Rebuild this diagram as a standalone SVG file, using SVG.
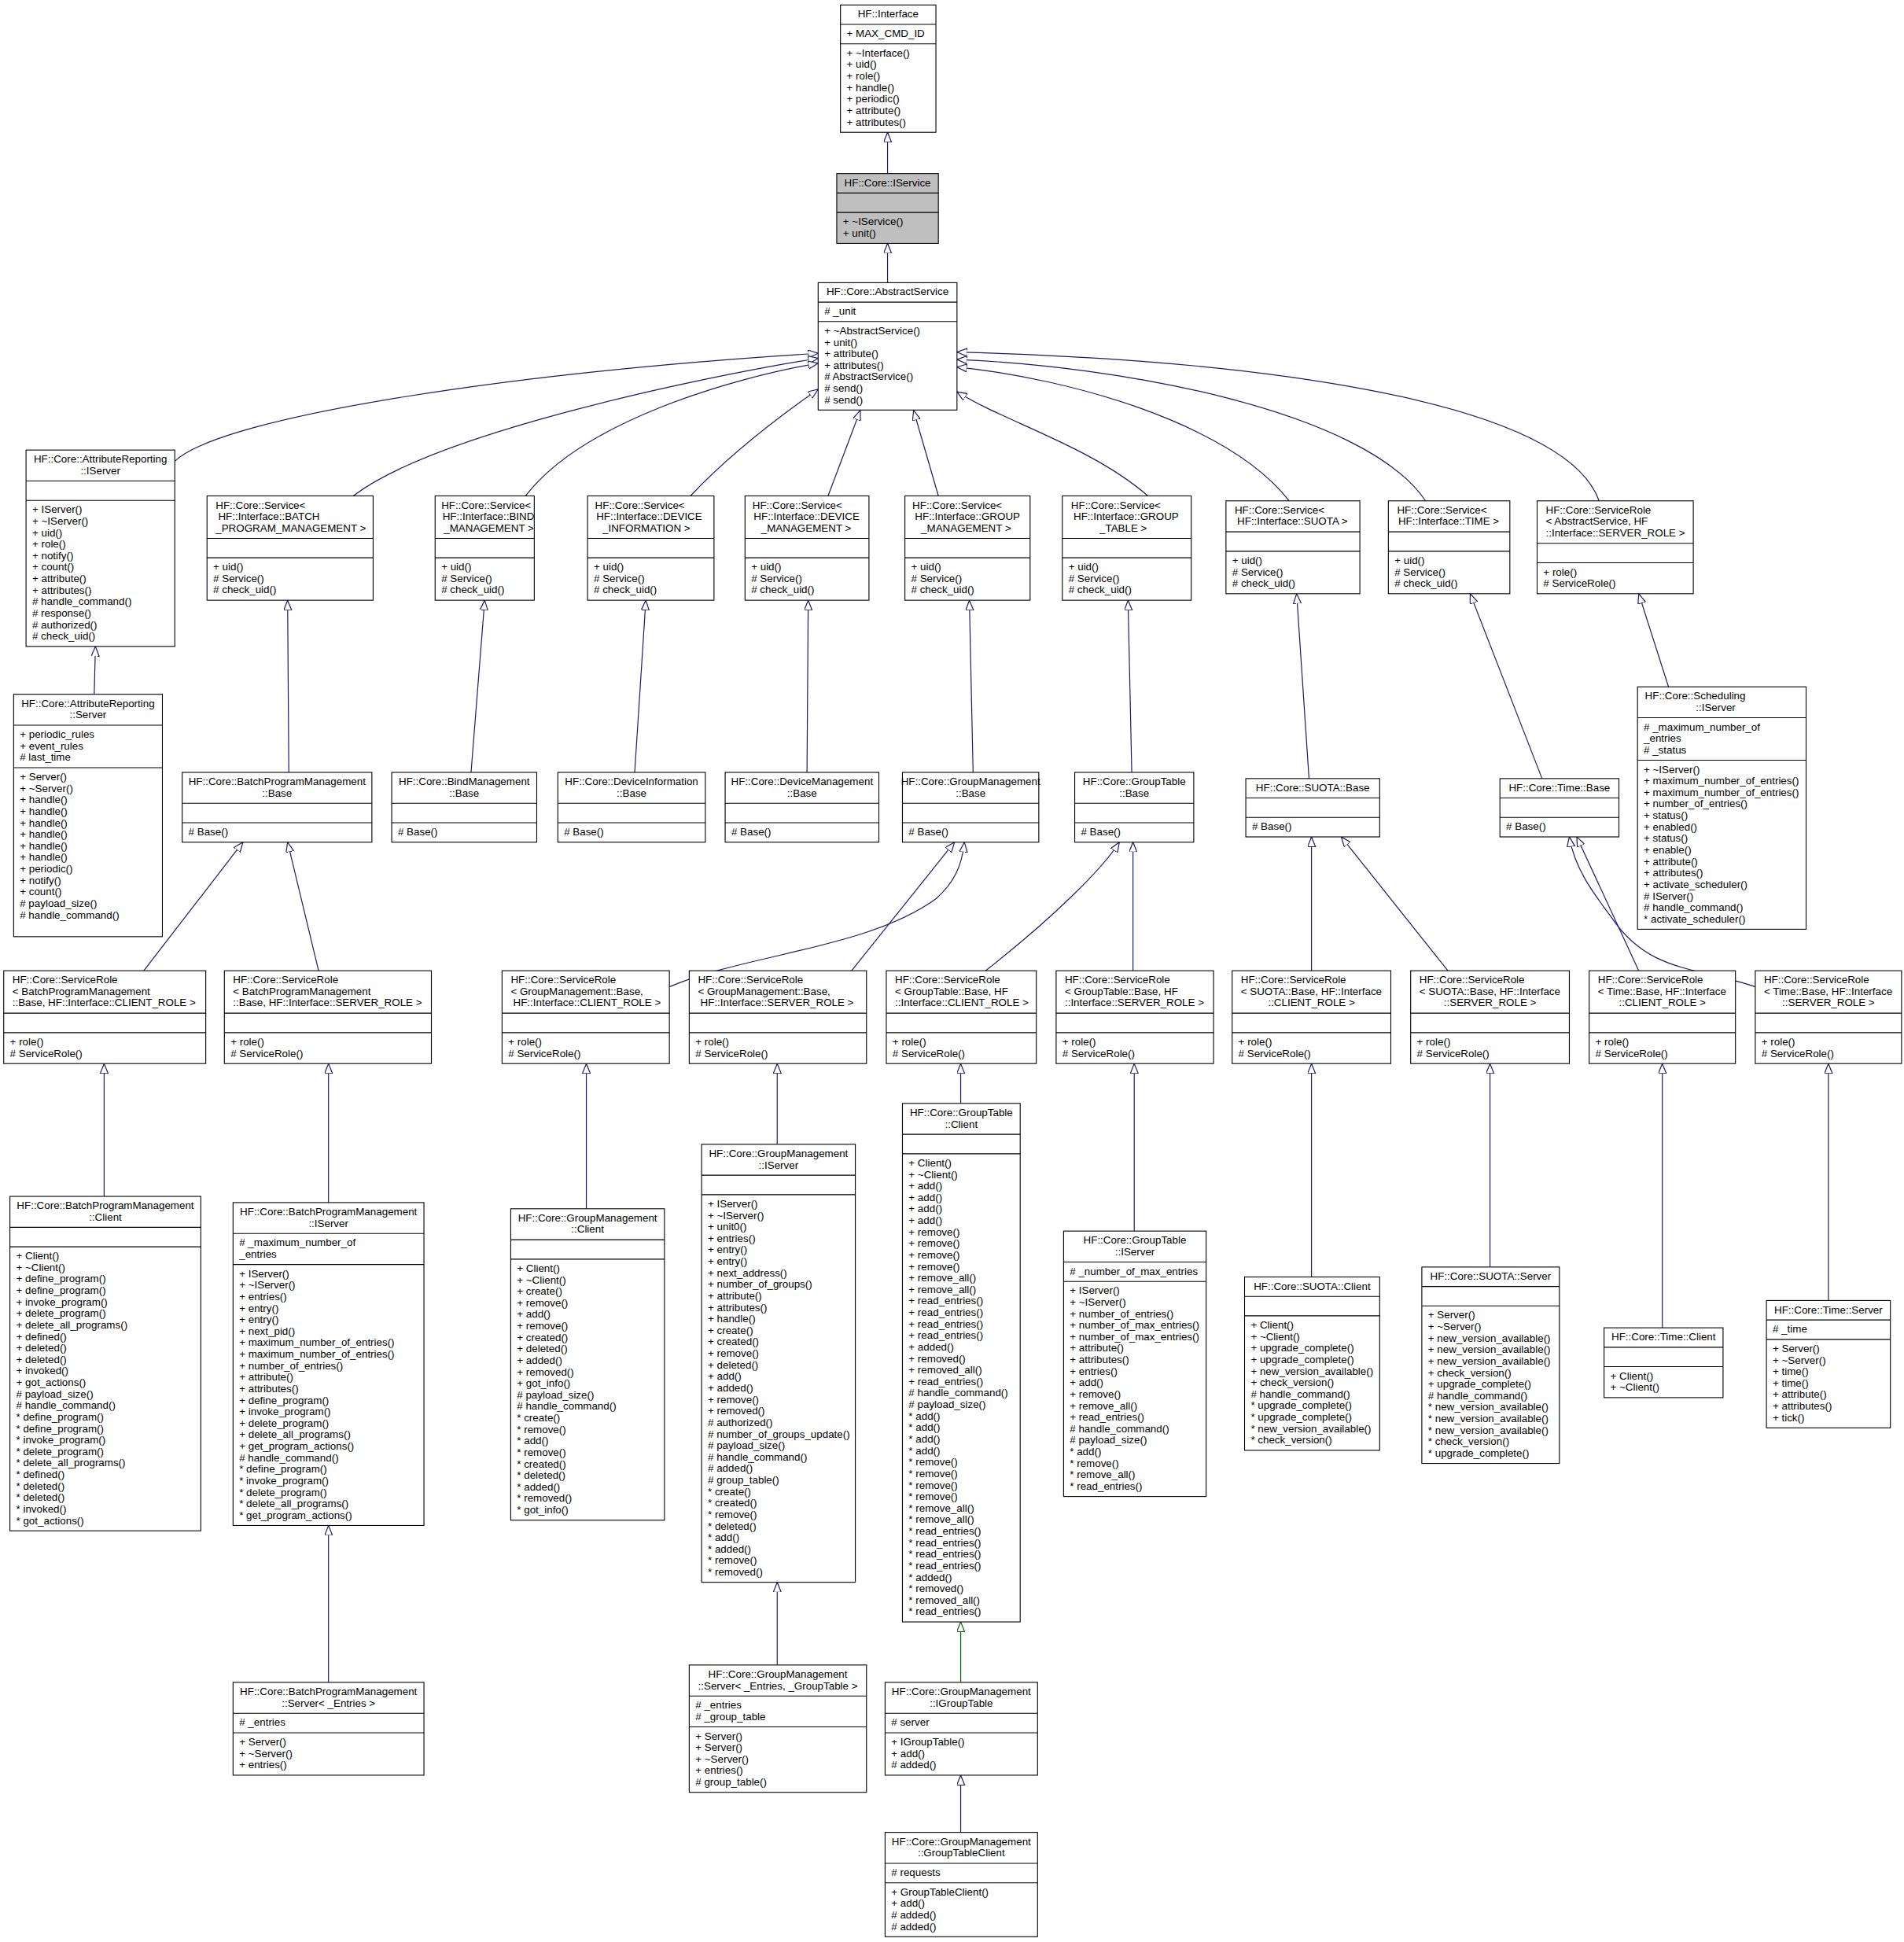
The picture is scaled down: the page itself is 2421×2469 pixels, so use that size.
<svg xmlns="http://www.w3.org/2000/svg" width="2421" height="2469" viewBox="0 0 2421 2469">
<style>
.b{fill:#fff;stroke:#000;stroke-width:0.7}
.g{fill:#bfbfbf;stroke:#000;stroke-width:0.7}
.s{stroke:#000;stroke-width:0.7;fill:none}
text{font-family:"Liberation Sans",Arial,sans-serif;font-size:8.5px;fill:#000}
.c{text-anchor:middle}
.e{fill:none;stroke:#191970;stroke-width:0.75;marker-end:url(#a)}
.eg{fill:none;stroke:#006400;stroke-width:0.75;marker-end:url(#ag)}
</style>
<defs>
<marker id="a" markerUnits="userSpaceOnUse" markerWidth="10" markerHeight="8" refX="8" refY="3.2" orient="auto"><path d="M0,0 L8,3.2 L0,6.4 Z" fill="#fff" stroke="#191970" stroke-width="0.75"/></marker>
<marker id="ag" markerUnits="userSpaceOnUse" markerWidth="10" markerHeight="8" refX="8" refY="3.2" orient="auto"><path d="M0,0 L8,3.2 L0,6.4 Z" fill="#fff" stroke="#006400" stroke-width="0.75"/></marker>
</defs>
<rect width="2421" height="2469" fill="#fff"/>
<g transform="scale(1.5762)">
<g id="edges">
<path class="e" d="M716,140 L716,106.7"/>
<path class="e" d="M716,228 L716,196.3"/>
<path class="e" d="M141,372 C180,335 420,300 660,285"/>
<path class="e" d="M285,400 C350,350 560,305 660,289"/>
<path class="e" d="M424,400 C470,340 590,305 660,293"/>
<path class="e" d="M557,400 C590,365 630,335 660,314"/>
<path class="e" d="M668,400 L694,331"/>
<path class="e" d="M757,400 L737,331"/>
<path class="e" d="M926,400 C880,360 810,340 772,316"/>
<path class="e" d="M1040,404 C990,340 860,305 772,296"/>
<path class="e" d="M1150,404 C1100,330 900,295 772,290"/>
<path class="e" d="M1290,404 C1260,320 1000,290 772,284"/>
<path class="e" d="M76,560 L77,521.4"/>
<path class="e" d="M233,623 L232,484.2"/>
<path class="e" d="M380,623 L391,484.2"/>
<path class="e" d="M512,623 L521,484.2"/>
<path class="e" d="M651,623 L652,484.2"/>
<path class="e" d="M785,623 L782,484.2"/>
<path class="e" d="M913,623 L910,484.2"/>
<path class="e" d="M1056,628 L1046,478.9"/>
<path class="e" d="M1244,628 L1186,478.9"/>
<path class="e" d="M1346,554 L1322,478.9"/>
<path class="e" d="M116,783 L196,679.3"/>
<path class="e" d="M257,783 L232,679.3"/>
<path class="e" d="M540,796 C600,770 700,765 755,725 C770,712 776,698 778,679.3"/>
<path class="e" d="M687,783 L770,679.3"/>
<path class="e" d="M795,783 C850,740 890,700 903,679.3"/>
<path class="e" d="M914,783 L914,679.3"/>
<path class="e" d="M1058,783 L1058,675"/>
<path class="e" d="M1168,783 L1082,675"/>
<path class="e" d="M1322,783 L1272,675"/>
<path class="e" d="M1416,796 C1370,780 1330,785 1300,740 C1285,720 1270,700 1266,675"/>
<path class="e" d="M84,965 L84,857.9"/>
<path class="e" d="M265,970 L265,857.9"/>
<path class="e" d="M473,975 L473,857.9"/>
<path class="e" d="M627,923 L627,857.9"/>
<path class="e" d="M775,890 L775,857.9"/>
<path class="e" d="M915,993 L915,857.9"/>
<path class="e" d="M1058,1030 L1058,857.9"/>
<path class="e" d="M1202,1022 L1202,857.9"/>
<path class="e" d="M1341,1071 L1341,857.9"/>
<path class="e" d="M1475,1049 L1475,857.9"/>
<path class="e" d="M265,1357 L265,1230.5"/>
<path class="e" d="M627,1343 L627,1276.3"/>
<path class="eg" d="M775,1357 L775,1308.2"/>
<path class="e" d="M775,1478 L775,1431.9"/>
</g>

<g id="n_interface">
<rect class="b" x="678" y="4" width="77" height="102.72"/>
<path class="s" d="M678,19.68 H755 M678,35.36 H755"/>
<text class="c" x="716.5" y="14.2">HF::Interface</text>
<text x="683" y="29.9">+ MAX_CMD_ID</text>
<text x="683" y="45.56"><tspan x="683">+ ~Interface()</tspan><tspan x="683" dy="9.28">+ uid()</tspan><tspan x="683" dy="9.28">+ role()</tspan><tspan x="683" dy="9.28">+ handle()</tspan><tspan x="683" dy="9.28">+ periodic()</tspan><tspan x="683" dy="9.28">+ attribute()</tspan><tspan x="683" dy="9.28">+ attributes()</tspan></text>
</g>

<g id="n_iservice">
<rect class="g" x="675" y="140" width="82" height="56.32"/>
<path class="s" d="M675,155.68 H757 M675,171.36 H757"/>
<text class="c" x="716" y="150.2">HF::Core::IService</text>
<text x="680" y="181.56"><tspan x="680">+ ~IService()</tspan><tspan x="680" dy="9.28">+ unit()</tspan></text>
</g>

<g id="n_abstractservice">
<rect class="b" x="660" y="228" width="112" height="102.72"/>
<path class="s" d="M660,243.68 H772 M660,259.36 H772"/>
<text class="c" x="716" y="238.2">HF::Core::AbstractService</text>
<text x="665" y="253.9"># _unit</text>
<text x="665" y="269.56"><tspan x="665">+ ~AbstractService()</tspan><tspan x="665" dy="9.28">+ unit()</tspan><tspan x="665" dy="9.28">+ attribute()</tspan><tspan x="665" dy="9.28">+ attributes()</tspan><tspan x="665" dy="9.28"># AbstractService()</tspan><tspan x="665" dy="9.28"># send()</tspan><tspan x="665" dy="9.28"># send()</tspan></text>
</g>

<g id="n_ar_iserver">
<rect class="b" x="21" y="363" width="120" height="158.4"/>
<path class="s" d="M21,387.96 H141 M21,403.64 H141"/>
<text class="c" x="81" y="373.2"><tspan x="81">HF::Core::AttributeReporting</tspan><tspan x="81" dy="9.28">::IServer</tspan></text>
<text x="26" y="413.84"><tspan x="26">+ IServer()</tspan><tspan x="26" dy="9.28">+ ~IServer()</tspan><tspan x="26" dy="9.28">+ uid()</tspan><tspan x="26" dy="9.28">+ role()</tspan><tspan x="26" dy="9.28">+ notify()</tspan><tspan x="26" dy="9.28">+ count()</tspan><tspan x="26" dy="9.28">+ attribute()</tspan><tspan x="26" dy="9.28">+ attributes()</tspan><tspan x="26" dy="9.28"># handle_command()</tspan><tspan x="26" dy="9.28"># response()</tspan><tspan x="26" dy="9.28"># authorized()</tspan><tspan x="26" dy="9.28"># check_uid()</tspan></text>
</g>

<g id="n_ar_server">
<rect class="b" x="11" y="560" width="120" height="195.52"/>
<path class="s" d="M11,584.96 H131 M11,619.2 H131"/>
<text class="c" x="71" y="570.2"><tspan x="71">HF::Core::AttributeReporting</tspan><tspan x="71" dy="9.28">::Server</tspan></text>
<text x="16" y="595.16"><tspan x="16">+ periodic_rules</tspan><tspan x="16" dy="9.28">+ event_rules</tspan><tspan x="16" dy="9.28"># last_time</tspan></text>
<text x="16" y="629.4"><tspan x="16">+ Server()</tspan><tspan x="16" dy="9.28">+ ~Server()</tspan><tspan x="16" dy="9.28">+ handle()</tspan><tspan x="16" dy="9.28">+ handle()</tspan><tspan x="16" dy="9.28">+ handle()</tspan><tspan x="16" dy="9.28">+ handle()</tspan><tspan x="16" dy="9.28">+ handle()</tspan><tspan x="16" dy="9.28">+ handle()</tspan><tspan x="16" dy="9.28">+ periodic()</tspan><tspan x="16" dy="9.28">+ notify()</tspan><tspan x="16" dy="9.28">+ count()</tspan><tspan x="16" dy="9.28"># payload_size()</tspan><tspan x="16" dy="9.28"># handle_command()</tspan></text>
</g>

<g id="n_svc_batch">
<rect class="b" x="167" y="400" width="134" height="84.16"/>
<path class="s" d="M167,434.24 H301 M167,449.92 H301"/>
<text x="174" y="410.2"><tspan x="174">HF::Core::Service&lt;</tspan><tspan x="176" dy="9.28">HF::Interface::BATCH</tspan><tspan x="174" dy="9.28">_PROGRAM_MANAGEMENT &gt;</tspan></text>
<text x="172" y="460.12"><tspan x="172">+ uid()</tspan><tspan x="172" dy="9.28"># Service()</tspan><tspan x="172" dy="9.28"># check_uid()</tspan></text>
</g>

<g id="n_svc_bind">
<rect class="b" x="351" y="400" width="80" height="84.16"/>
<path class="s" d="M351,434.24 H431 M351,449.92 H431"/>
<text x="356" y="410.2"><tspan x="356">HF::Core::Service&lt;</tspan><tspan x="357" dy="9.28">HF::Interface::BIND</tspan><tspan x="358" dy="9.28">_MANAGEMENT &gt;</tspan></text>
<text x="356" y="460.12"><tspan x="356">+ uid()</tspan><tspan x="356" dy="9.28"># Service()</tspan><tspan x="356" dy="9.28"># check_uid()</tspan></text>
</g>

<g id="n_svc_devinfo">
<rect class="b" x="474" y="400" width="102" height="84.16"/>
<path class="s" d="M474,434.24 H576 M474,449.92 H576"/>
<text x="480" y="410.2"><tspan x="480">HF::Core::Service&lt;</tspan><tspan x="481" dy="9.28">HF::Interface::DEVICE</tspan><tspan x="486" dy="9.28">_INFORMATION &gt;</tspan></text>
<text x="479" y="460.12"><tspan x="479">+ uid()</tspan><tspan x="479" dy="9.28"># Service()</tspan><tspan x="479" dy="9.28"># check_uid()</tspan></text>
</g>

<g id="n_svc_devmgmt">
<rect class="b" x="601" y="400" width="100" height="84.16"/>
<path class="s" d="M601,434.24 H701 M601,449.92 H701"/>
<text x="607" y="410.2"><tspan x="607">HF::Core::Service&lt;</tspan><tspan x="608" dy="9.28">HF::Interface::DEVICE</tspan><tspan x="614" dy="9.28">_MANAGEMENT &gt;</tspan></text>
<text x="606" y="460.12"><tspan x="606">+ uid()</tspan><tspan x="606" dy="9.28"># Service()</tspan><tspan x="606" dy="9.28"># check_uid()</tspan></text>
</g>

<g id="n_svc_groupmgmt">
<rect class="b" x="730" y="400" width="101" height="84.16"/>
<path class="s" d="M730,434.24 H831 M730,449.92 H831"/>
<text x="736" y="410.2"><tspan x="736">HF::Core::Service&lt;</tspan><tspan x="738" dy="9.28">HF::Interface::GROUP</tspan><tspan x="743" dy="9.28">_MANAGEMENT &gt;</tspan></text>
<text x="735" y="460.12"><tspan x="735">+ uid()</tspan><tspan x="735" dy="9.28"># Service()</tspan><tspan x="735" dy="9.28"># check_uid()</tspan></text>
</g>

<g id="n_svc_grouptable">
<rect class="b" x="857" y="400" width="104" height="84.16"/>
<path class="s" d="M857,434.24 H961 M857,449.92 H961"/>
<text x="864" y="410.2"><tspan x="864">HF::Core::Service&lt;</tspan><tspan x="866" dy="9.28">HF::Interface::GROUP</tspan><tspan x="887" dy="9.28">_TABLE &gt;</tspan></text>
<text x="862" y="460.12"><tspan x="862">+ uid()</tspan><tspan x="862" dy="9.28"># Service()</tspan><tspan x="862" dy="9.28"># check_uid()</tspan></text>
</g>

<g id="n_svc_suota">
<rect class="b" x="989" y="404" width="108" height="74.88"/>
<path class="s" d="M989,428.96 H1097 M989,444.64 H1097"/>
<text x="996" y="414.2"><tspan x="996">HF::Core::Service&lt;</tspan><tspan x="998" dy="9.28">HF::Interface::SUOTA &gt;</tspan></text>
<text x="994" y="454.84"><tspan x="994">+ uid()</tspan><tspan x="994" dy="9.28"># Service()</tspan><tspan x="994" dy="9.28"># check_uid()</tspan></text>
</g>

<g id="n_svc_time">
<rect class="b" x="1120" y="404" width="98" height="74.88"/>
<path class="s" d="M1120,428.96 H1218 M1120,444.64 H1218"/>
<text x="1127" y="414.2"><tspan x="1127">HF::Core::Service&lt;</tspan><tspan x="1128" dy="9.28">HF::Interface::TIME &gt;</tspan></text>
<text x="1125" y="454.84"><tspan x="1125">+ uid()</tspan><tspan x="1125" dy="9.28"># Service()</tspan><tspan x="1125" dy="9.28"># check_uid()</tspan></text>
</g>

<g id="n_sr_abstract">
<rect class="b" x="1240" y="404" width="126" height="74.88"/>
<path class="s" d="M1240,438.24 H1366 M1240,453.92 H1366"/>
<text x="1247" y="414.2"><tspan x="1247">HF::Core::ServiceRole</tspan><tspan x="1247" dy="9.28">&lt; AbstractService, HF</tspan><tspan x="1247" dy="9.28">::Interface::SERVER_ROLE &gt;</tspan></text>
<text x="1245" y="464.12"><tspan x="1245">+ role()</tspan><tspan x="1245" dy="9.28"># ServiceRole()</tspan></text>
</g>

<g id="n_sched_iserver">
<rect class="b" x="1321" y="554" width="136" height="195.52"/>
<path class="s" d="M1321,578.96 H1457 M1321,613.2 H1457"/>
<text x="1327" y="564.2"><tspan x="1327">HF::Core::Scheduling</tspan><tspan x="1368" dy="9.28">::IServer</tspan></text>
<text x="1326" y="589.16"><tspan x="1326"># _maximum_number_of</tspan><tspan x="1326" dy="9.28">_entries</tspan><tspan x="1326" dy="9.28"># _status</tspan></text>
<text x="1326" y="623.4"><tspan x="1326">+ ~IServer()</tspan><tspan x="1326" dy="9.28">+ maximum_number_of_entries()</tspan><tspan x="1326" dy="9.28">+ maximum_number_of_entries()</tspan><tspan x="1326" dy="9.28">+ number_of_entries()</tspan><tspan x="1326" dy="9.28">+ status()</tspan><tspan x="1326" dy="9.28">+ enabled()</tspan><tspan x="1326" dy="9.28">+ status()</tspan><tspan x="1326" dy="9.28">+ enable()</tspan><tspan x="1326" dy="9.28">+ attribute()</tspan><tspan x="1326" dy="9.28">+ attributes()</tspan><tspan x="1326" dy="9.28">+ activate_scheduler()</tspan><tspan x="1326" dy="9.28"># IServer()</tspan><tspan x="1326" dy="9.28"># handle_command()</tspan><tspan x="1326" dy="9.28">* activate_scheduler()</tspan></text>
</g>

<g id="n_bpm_base">
<rect class="b" x="147" y="623" width="153" height="56.32"/>
<path class="s" d="M147,647.96 H300 M147,663.64 H300"/>
<text class="c" x="223.5" y="633.2"><tspan x="223.5">HF::Core::BatchProgramManagement</tspan><tspan x="223.5" dy="9.28">::Base</tspan></text>
<text x="152" y="673.84"># Base()</text>
</g>

<g id="n_bind_base">
<rect class="b" x="316" y="623" width="117" height="56.32"/>
<path class="s" d="M316,647.96 H433 M316,663.64 H433"/>
<text class="c" x="374.5" y="633.2"><tspan x="374.5">HF::Core::BindManagement</tspan><tspan x="374.5" dy="9.28">::Base</tspan></text>
<text x="321" y="673.84"># Base()</text>
</g>

<g id="n_devinfo_base">
<rect class="b" x="450" y="623" width="119" height="56.32"/>
<path class="s" d="M450,647.96 H569 M450,663.64 H569"/>
<text class="c" x="509.5" y="633.2"><tspan x="509.5">HF::Core::DeviceInformation</tspan><tspan x="509.5" dy="9.28">::Base</tspan></text>
<text x="455" y="673.84"># Base()</text>
</g>

<g id="n_devmgmt_base">
<rect class="b" x="585" y="623" width="124" height="56.32"/>
<path class="s" d="M585,647.96 H709 M585,663.64 H709"/>
<text class="c" x="647" y="633.2"><tspan x="647">HF::Core::DeviceManagement</tspan><tspan x="647" dy="9.28">::Base</tspan></text>
<text x="590" y="673.84"># Base()</text>
</g>

<g id="n_gm_base">
<rect class="b" x="728" y="623" width="110" height="56.32"/>
<path class="s" d="M728,647.96 H838 M728,663.64 H838"/>
<text class="c" x="783" y="633.2"><tspan x="783">HF::Core::GroupManagement</tspan><tspan x="783" dy="9.28">::Base</tspan></text>
<text x="733" y="673.84"># Base()</text>
</g>

<g id="n_gt_base">
<rect class="b" x="867" y="623" width="96" height="56.32"/>
<path class="s" d="M867,647.96 H963 M867,663.64 H963"/>
<text class="c" x="915" y="633.2"><tspan x="915">HF::Core::GroupTable</tspan><tspan x="915" dy="9.28">::Base</tspan></text>
<text x="872" y="673.84"># Base()</text>
</g>

<g id="n_suota_base">
<rect class="b" x="1005" y="628" width="108" height="47.04"/>
<path class="s" d="M1005,643.68 H1113 M1005,659.36 H1113"/>
<text class="c" x="1059" y="638.2">HF::Core::SUOTA::Base</text>
<text x="1010" y="669.56"># Base()</text>
</g>

<g id="n_time_base">
<rect class="b" x="1210" y="628" width="96" height="47.04"/>
<path class="s" d="M1210,643.68 H1306 M1210,659.36 H1306"/>
<text class="c" x="1258" y="638.2">HF::Core::Time::Base</text>
<text x="1215" y="669.56"># Base()</text>
</g>

<g id="n_sr_bpm_client">
<rect class="b" x="3" y="783" width="163" height="74.88"/>
<path class="s" d="M3,817.24 H166 M3,832.92 H166"/>
<text x="10" y="793.2"><tspan x="10">HF::Core::ServiceRole</tspan><tspan x="10" dy="9.28">&lt; BatchProgramManagement</tspan><tspan x="10" dy="9.28">::Base, HF::Interface::CLIENT_ROLE &gt;</tspan></text>
<text x="8" y="843.12"><tspan x="8">+ role()</tspan><tspan x="8" dy="9.28"># ServiceRole()</tspan></text>
</g>

<g id="n_sr_bpm_server">
<rect class="b" x="181" y="783" width="167" height="74.88"/>
<path class="s" d="M181,817.24 H348 M181,832.92 H348"/>
<text x="188" y="793.2"><tspan x="188">HF::Core::ServiceRole</tspan><tspan x="188" dy="9.28">&lt; BatchProgramManagement</tspan><tspan x="188" dy="9.28">::Base, HF::Interface::SERVER_ROLE &gt;</tspan></text>
<text x="186" y="843.12"><tspan x="186">+ role()</tspan><tspan x="186" dy="9.28"># ServiceRole()</tspan></text>
</g>

<g id="n_sr_gm_client">
<rect class="b" x="405" y="783" width="135" height="74.88"/>
<path class="s" d="M405,817.24 H540 M405,832.92 H540"/>
<text x="412" y="793.2"><tspan x="412">HF::Core::ServiceRole</tspan><tspan x="412" dy="9.28">&lt; GroupManagement::Base,</tspan><tspan x="414" dy="9.28">HF::Interface::CLIENT_ROLE &gt;</tspan></text>
<text x="410" y="843.12"><tspan x="410">+ role()</tspan><tspan x="410" dy="9.28"># ServiceRole()</tspan></text>
</g>

<g id="n_sr_gm_server">
<rect class="b" x="556" y="783" width="143" height="74.88"/>
<path class="s" d="M556,817.24 H699 M556,832.92 H699"/>
<text x="563" y="793.2"><tspan x="563">HF::Core::ServiceRole</tspan><tspan x="563" dy="9.28">&lt; GroupManagement::Base,</tspan><tspan x="565" dy="9.28">HF::Interface::SERVER_ROLE &gt;</tspan></text>
<text x="561" y="843.12"><tspan x="561">+ role()</tspan><tspan x="561" dy="9.28"># ServiceRole()</tspan></text>
</g>

<g id="n_sr_gt_client">
<rect class="b" x="715" y="783" width="121" height="74.88"/>
<path class="s" d="M715,817.24 H836 M715,832.92 H836"/>
<text x="722" y="793.2"><tspan x="722">HF::Core::ServiceRole</tspan><tspan x="722" dy="9.28">&lt; GroupTable::Base, HF</tspan><tspan x="722" dy="9.28">::Interface::CLIENT_ROLE &gt;</tspan></text>
<text x="720" y="843.12"><tspan x="720">+ role()</tspan><tspan x="720" dy="9.28"># ServiceRole()</tspan></text>
</g>

<g id="n_sr_gt_server">
<rect class="b" x="852" y="783" width="127" height="74.88"/>
<path class="s" d="M852,817.24 H979 M852,832.92 H979"/>
<text x="859" y="793.2"><tspan x="859">HF::Core::ServiceRole</tspan><tspan x="859" dy="9.28">&lt; GroupTable::Base, HF</tspan><tspan x="859" dy="9.28">::Interface::SERVER_ROLE &gt;</tspan></text>
<text x="857" y="843.12"><tspan x="857">+ role()</tspan><tspan x="857" dy="9.28"># ServiceRole()</tspan></text>
</g>

<g id="n_sr_suota_client">
<rect class="b" x="994" y="783" width="128" height="74.88"/>
<path class="s" d="M994,817.24 H1122 M994,832.92 H1122"/>
<text x="1001" y="793.2"><tspan x="1001">HF::Core::ServiceRole</tspan><tspan x="1001" dy="9.28">&lt; SUOTA::Base, HF::Interface</tspan><tspan x="1058" dy="9.28" text-anchor="middle">::CLIENT_ROLE &gt;</tspan></text>
<text x="999" y="843.12"><tspan x="999">+ role()</tspan><tspan x="999" dy="9.28"># ServiceRole()</tspan></text>
</g>

<g id="n_sr_suota_server">
<rect class="b" x="1138" y="783" width="128" height="74.88"/>
<path class="s" d="M1138,817.24 H1266 M1138,832.92 H1266"/>
<text x="1145" y="793.2"><tspan x="1145">HF::Core::ServiceRole</tspan><tspan x="1145" dy="9.28">&lt; SUOTA::Base, HF::Interface</tspan><tspan x="1202" dy="9.28" text-anchor="middle">::SERVER_ROLE &gt;</tspan></text>
<text x="1143" y="843.12"><tspan x="1143">+ role()</tspan><tspan x="1143" dy="9.28"># ServiceRole()</tspan></text>
</g>

<g id="n_sr_time_client">
<rect class="b" x="1282" y="783" width="118" height="74.88"/>
<path class="s" d="M1282,817.24 H1400 M1282,832.92 H1400"/>
<text x="1289" y="793.2"><tspan x="1289">HF::Core::ServiceRole</tspan><tspan x="1289" dy="9.28">&lt; Time::Base, HF::Interface</tspan><tspan x="1341" dy="9.28" text-anchor="middle">::CLIENT_ROLE &gt;</tspan></text>
<text x="1287" y="843.12"><tspan x="1287">+ role()</tspan><tspan x="1287" dy="9.28"># ServiceRole()</tspan></text>
</g>

<g id="n_sr_time_server">
<rect class="b" x="1416" y="783" width="118" height="74.88"/>
<path class="s" d="M1416,817.24 H1534 M1416,832.92 H1534"/>
<text x="1423" y="793.2"><tspan x="1423">HF::Core::ServiceRole</tspan><tspan x="1423" dy="9.28">&lt; Time::Base, HF::Interface</tspan><tspan x="1475" dy="9.28" text-anchor="middle">::SERVER_ROLE &gt;</tspan></text>
<text x="1421" y="843.12"><tspan x="1421">+ role()</tspan><tspan x="1421" dy="9.28"># ServiceRole()</tspan></text>
</g>

<g id="n_bpm_client">
<rect class="b" x="8" y="965" width="154" height="269.76"/>
<path class="s" d="M8,989.96 H162 M8,1005.64 H162"/>
<text class="c" x="85" y="975.2"><tspan x="85">HF::Core::BatchProgramManagement</tspan><tspan x="85" dy="9.28">::Client</tspan></text>
<text x="13" y="1015.84"><tspan x="13">+ Client()</tspan><tspan x="13" dy="9.28">+ ~Client()</tspan><tspan x="13" dy="9.28">+ define_program()</tspan><tspan x="13" dy="9.28">+ define_program()</tspan><tspan x="13" dy="9.28">+ invoke_program()</tspan><tspan x="13" dy="9.28">+ delete_program()</tspan><tspan x="13" dy="9.28">+ delete_all_programs()</tspan><tspan x="13" dy="9.28">+ defined()</tspan><tspan x="13" dy="9.28">+ deleted()</tspan><tspan x="13" dy="9.28">+ deleted()</tspan><tspan x="13" dy="9.28">+ invoked()</tspan><tspan x="13" dy="9.28">+ got_actions()</tspan><tspan x="13" dy="9.28"># payload_size()</tspan><tspan x="13" dy="9.28"># handle_command()</tspan><tspan x="13" dy="9.28">* define_program()</tspan><tspan x="13" dy="9.28">* define_program()</tspan><tspan x="13" dy="9.28">* invoke_program()</tspan><tspan x="13" dy="9.28">* delete_program()</tspan><tspan x="13" dy="9.28">* delete_all_programs()</tspan><tspan x="13" dy="9.28">* defined()</tspan><tspan x="13" dy="9.28">* deleted()</tspan><tspan x="13" dy="9.28">* deleted()</tspan><tspan x="13" dy="9.28">* invoked()</tspan><tspan x="13" dy="9.28">* got_actions()</tspan></text>
</g>

<g id="n_bpm_iserver">
<rect class="b" x="188" y="970" width="154" height="260.48"/>
<path class="s" d="M188,994.96 H342 M188,1019.92 H342"/>
<text class="c" x="265" y="980.2"><tspan x="265">HF::Core::BatchProgramManagement</tspan><tspan x="265" dy="9.28">::IServer</tspan></text>
<text x="193" y="1005.16"><tspan x="193"># _maximum_number_of</tspan><tspan x="193" dy="9.28">_entries</tspan></text>
<text x="193" y="1030.12"><tspan x="193">+ IServer()</tspan><tspan x="193" dy="9.28">+ ~IServer()</tspan><tspan x="193" dy="9.28">+ entries()</tspan><tspan x="193" dy="9.28">+ entry()</tspan><tspan x="193" dy="9.28">+ entry()</tspan><tspan x="193" dy="9.28">+ next_pid()</tspan><tspan x="193" dy="9.28">+ maximum_number_of_entries()</tspan><tspan x="193" dy="9.28">+ maximum_number_of_entries()</tspan><tspan x="193" dy="9.28">+ number_of_entries()</tspan><tspan x="193" dy="9.28">+ attribute()</tspan><tspan x="193" dy="9.28">+ attributes()</tspan><tspan x="193" dy="9.28">+ define_program()</tspan><tspan x="193" dy="9.28">+ invoke_program()</tspan><tspan x="193" dy="9.28">+ delete_program()</tspan><tspan x="193" dy="9.28">+ delete_all_programs()</tspan><tspan x="193" dy="9.28">+ get_program_actions()</tspan><tspan x="193" dy="9.28"># handle_command()</tspan><tspan x="193" dy="9.28">* define_program()</tspan><tspan x="193" dy="9.28">* invoke_program()</tspan><tspan x="193" dy="9.28">* delete_program()</tspan><tspan x="193" dy="9.28">* delete_all_programs()</tspan><tspan x="193" dy="9.28">* get_program_actions()</tspan></text>
</g>

<g id="n_bpm_server">
<rect class="b" x="188" y="1357" width="154" height="74.88"/>
<path class="s" d="M188,1381.96 H342 M188,1397.64 H342"/>
<text class="c" x="265" y="1367.2"><tspan x="265">HF::Core::BatchProgramManagement</tspan><tspan x="265" dy="9.28">::Server&lt; _Entries &gt;</tspan></text>
<text x="193" y="1392.16"># _entries</text>
<text x="193" y="1407.84"><tspan x="193">+ Server()</tspan><tspan x="193" dy="9.28">+ ~Server()</tspan><tspan x="193" dy="9.28">+ entries()</tspan></text>
</g>

<g id="n_gm_client">
<rect class="b" x="412" y="975" width="124" height="251.2"/>
<path class="s" d="M412,999.96 H536 M412,1015.64 H536"/>
<text class="c" x="474" y="985.2"><tspan x="474">HF::Core::GroupManagement</tspan><tspan x="474" dy="9.28">::Client</tspan></text>
<text x="417" y="1025.84"><tspan x="417">+ Client()</tspan><tspan x="417" dy="9.28">+ ~Client()</tspan><tspan x="417" dy="9.28">+ create()</tspan><tspan x="417" dy="9.28">+ remove()</tspan><tspan x="417" dy="9.28">+ add()</tspan><tspan x="417" dy="9.28">+ remove()</tspan><tspan x="417" dy="9.28">+ created()</tspan><tspan x="417" dy="9.28">+ deleted()</tspan><tspan x="417" dy="9.28">+ added()</tspan><tspan x="417" dy="9.28">+ removed()</tspan><tspan x="417" dy="9.28">+ got_info()</tspan><tspan x="417" dy="9.28"># payload_size()</tspan><tspan x="417" dy="9.28"># handle_command()</tspan><tspan x="417" dy="9.28">* create()</tspan><tspan x="417" dy="9.28">* remove()</tspan><tspan x="417" dy="9.28">* add()</tspan><tspan x="417" dy="9.28">* remove()</tspan><tspan x="417" dy="9.28">* created()</tspan><tspan x="417" dy="9.28">* deleted()</tspan><tspan x="417" dy="9.28">* added()</tspan><tspan x="417" dy="9.28">* removed()</tspan><tspan x="417" dy="9.28">* got_info()</tspan></text>
</g>

<g id="n_gm_iserver">
<rect class="b" x="566" y="923" width="124" height="353.28"/>
<path class="s" d="M566,947.96 H690 M566,963.64 H690"/>
<text class="c" x="628" y="933.2"><tspan x="628">HF::Core::GroupManagement</tspan><tspan x="628" dy="9.28">::IServer</tspan></text>
<text x="571" y="973.84"><tspan x="571">+ IServer()</tspan><tspan x="571" dy="9.28">+ ~IServer()</tspan><tspan x="571" dy="9.28">+ unit0()</tspan><tspan x="571" dy="9.28">+ entries()</tspan><tspan x="571" dy="9.28">+ entry()</tspan><tspan x="571" dy="9.28">+ entry()</tspan><tspan x="571" dy="9.28">+ next_address()</tspan><tspan x="571" dy="9.28">+ number_of_groups()</tspan><tspan x="571" dy="9.28">+ attribute()</tspan><tspan x="571" dy="9.28">+ attributes()</tspan><tspan x="571" dy="9.28">+ handle()</tspan><tspan x="571" dy="9.28">+ create()</tspan><tspan x="571" dy="9.28">+ created()</tspan><tspan x="571" dy="9.28">+ remove()</tspan><tspan x="571" dy="9.28">+ deleted()</tspan><tspan x="571" dy="9.28">+ add()</tspan><tspan x="571" dy="9.28">+ added()</tspan><tspan x="571" dy="9.28">+ remove()</tspan><tspan x="571" dy="9.28">+ removed()</tspan><tspan x="571" dy="9.28"># authorized()</tspan><tspan x="571" dy="9.28"># number_of_groups_update()</tspan><tspan x="571" dy="9.28"># payload_size()</tspan><tspan x="571" dy="9.28"># handle_command()</tspan><tspan x="571" dy="9.28"># added()</tspan><tspan x="571" dy="9.28"># group_table()</tspan><tspan x="571" dy="9.28">* create()</tspan><tspan x="571" dy="9.28">* created()</tspan><tspan x="571" dy="9.28">* remove()</tspan><tspan x="571" dy="9.28">* deleted()</tspan><tspan x="571" dy="9.28">* add()</tspan><tspan x="571" dy="9.28">* added()</tspan><tspan x="571" dy="9.28">* remove()</tspan><tspan x="571" dy="9.28">* removed()</tspan></text>
</g>

<g id="n_gm_server">
<rect class="b" x="556" y="1343" width="143" height="102.72"/>
<path class="s" d="M556,1367.96 H699 M556,1392.92 H699"/>
<text class="c" x="627.5" y="1353.2"><tspan x="627.5">HF::Core::GroupManagement</tspan><tspan x="627.5" dy="9.28">::Server&lt; _Entries, _GroupTable &gt;</tspan></text>
<text x="561" y="1378.16"><tspan x="561"># _entries</tspan><tspan x="561" dy="9.28"># _group_table</tspan></text>
<text x="561" y="1403.12"><tspan x="561">+ Server()</tspan><tspan x="561" dy="9.28">+ Server()</tspan><tspan x="561" dy="9.28">+ ~Server()</tspan><tspan x="561" dy="9.28">+ entries()</tspan><tspan x="561" dy="9.28"># group_table()</tspan></text>
</g>

<g id="n_gt_client">
<rect class="b" x="728" y="890" width="95" height="418.24"/>
<path class="s" d="M728,914.96 H823 M728,930.64 H823"/>
<text class="c" x="775.5" y="900.2"><tspan x="775.5">HF::Core::GroupTable</tspan><tspan x="775.5" dy="9.28">::Client</tspan></text>
<text x="733" y="940.84"><tspan x="733">+ Client()</tspan><tspan x="733" dy="9.28">+ ~Client()</tspan><tspan x="733" dy="9.28">+ add()</tspan><tspan x="733" dy="9.28">+ add()</tspan><tspan x="733" dy="9.28">+ add()</tspan><tspan x="733" dy="9.28">+ add()</tspan><tspan x="733" dy="9.28">+ remove()</tspan><tspan x="733" dy="9.28">+ remove()</tspan><tspan x="733" dy="9.28">+ remove()</tspan><tspan x="733" dy="9.28">+ remove()</tspan><tspan x="733" dy="9.28">+ remove_all()</tspan><tspan x="733" dy="9.28">+ remove_all()</tspan><tspan x="733" dy="9.28">+ read_entries()</tspan><tspan x="733" dy="9.28">+ read_entries()</tspan><tspan x="733" dy="9.28">+ read_entries()</tspan><tspan x="733" dy="9.28">+ read_entries()</tspan><tspan x="733" dy="9.28">+ added()</tspan><tspan x="733" dy="9.28">+ removed()</tspan><tspan x="733" dy="9.28">+ removed_all()</tspan><tspan x="733" dy="9.28">+ read_entries()</tspan><tspan x="733" dy="9.28"># handle_command()</tspan><tspan x="733" dy="9.28"># payload_size()</tspan><tspan x="733" dy="9.28">* add()</tspan><tspan x="733" dy="9.28">* add()</tspan><tspan x="733" dy="9.28">* add()</tspan><tspan x="733" dy="9.28">* add()</tspan><tspan x="733" dy="9.28">* remove()</tspan><tspan x="733" dy="9.28">* remove()</tspan><tspan x="733" dy="9.28">* remove()</tspan><tspan x="733" dy="9.28">* remove()</tspan><tspan x="733" dy="9.28">* remove_all()</tspan><tspan x="733" dy="9.28">* remove_all()</tspan><tspan x="733" dy="9.28">* read_entries()</tspan><tspan x="733" dy="9.28">* read_entries()</tspan><tspan x="733" dy="9.28">* read_entries()</tspan><tspan x="733" dy="9.28">* read_entries()</tspan><tspan x="733" dy="9.28">* added()</tspan><tspan x="733" dy="9.28">* removed()</tspan><tspan x="733" dy="9.28">* removed_all()</tspan><tspan x="733" dy="9.28">* read_entries()</tspan></text>
</g>

<g id="n_gm_igrouptable">
<rect class="b" x="714" y="1357" width="123" height="74.88"/>
<path class="s" d="M714,1381.96 H837 M714,1397.64 H837"/>
<text class="c" x="775.5" y="1367.2"><tspan x="775.5">HF::Core::GroupManagement</tspan><tspan x="775.5" dy="9.28">::IGroupTable</tspan></text>
<text x="719" y="1392.16"># server</text>
<text x="719" y="1407.84"><tspan x="719">+ IGroupTable()</tspan><tspan x="719" dy="9.28">+ add()</tspan><tspan x="719" dy="9.28"># added()</tspan></text>
</g>

<g id="n_gm_grouptableclient">
<rect class="b" x="714" y="1478" width="123" height="84.16"/>
<path class="s" d="M714,1502.96 H837 M714,1518.64 H837"/>
<text class="c" x="775.5" y="1488.2"><tspan x="775.5">HF::Core::GroupManagement</tspan><tspan x="775.5" dy="9.28">::GroupTableClient</tspan></text>
<text x="719" y="1513.16"># requests</text>
<text x="719" y="1528.84"><tspan x="719">+ GroupTableClient()</tspan><tspan x="719" dy="9.28">+ add()</tspan><tspan x="719" dy="9.28"># added()</tspan><tspan x="719" dy="9.28"># added()</tspan></text>
</g>

<g id="n_gt_iserver">
<rect class="b" x="858" y="993" width="115" height="214.08"/>
<path class="s" d="M858,1017.96 H973 M858,1033.64 H973"/>
<text class="c" x="915.5" y="1003.2"><tspan x="915.5">HF::Core::GroupTable</tspan><tspan x="915.5" dy="9.28">::IServer</tspan></text>
<text x="863" y="1028.16"># _number_of_max_entries</text>
<text x="863" y="1043.84"><tspan x="863">+ IServer()</tspan><tspan x="863" dy="9.28">+ ~IServer()</tspan><tspan x="863" dy="9.28">+ number_of_entries()</tspan><tspan x="863" dy="9.28">+ number_of_max_entries()</tspan><tspan x="863" dy="9.28">+ number_of_max_entries()</tspan><tspan x="863" dy="9.28">+ attribute()</tspan><tspan x="863" dy="9.28">+ attributes()</tspan><tspan x="863" dy="9.28">+ entries()</tspan><tspan x="863" dy="9.28">+ add()</tspan><tspan x="863" dy="9.28">+ remove()</tspan><tspan x="863" dy="9.28">+ remove_all()</tspan><tspan x="863" dy="9.28">+ read_entries()</tspan><tspan x="863" dy="9.28"># handle_command()</tspan><tspan x="863" dy="9.28"># payload_size()</tspan><tspan x="863" dy="9.28">* add()</tspan><tspan x="863" dy="9.28">* remove()</tspan><tspan x="863" dy="9.28">* remove_all()</tspan><tspan x="863" dy="9.28">* read_entries()</tspan></text>
</g>

<g id="n_suota_client">
<rect class="b" x="1004" y="1030" width="109" height="139.84"/>
<path class="s" d="M1004,1045.68 H1113 M1004,1061.36 H1113"/>
<text class="c" x="1058.5" y="1040.2">HF::Core::SUOTA::Client</text>
<text x="1009" y="1071.56"><tspan x="1009">+ Client()</tspan><tspan x="1009" dy="9.28">+ ~Client()</tspan><tspan x="1009" dy="9.28">+ upgrade_complete()</tspan><tspan x="1009" dy="9.28">+ upgrade_complete()</tspan><tspan x="1009" dy="9.28">+ new_version_available()</tspan><tspan x="1009" dy="9.28">+ check_version()</tspan><tspan x="1009" dy="9.28"># handle_command()</tspan><tspan x="1009" dy="9.28">* upgrade_complete()</tspan><tspan x="1009" dy="9.28">* upgrade_complete()</tspan><tspan x="1009" dy="9.28">* new_version_available()</tspan><tspan x="1009" dy="9.28">* check_version()</tspan></text>
</g>

<g id="n_suota_server">
<rect class="b" x="1147" y="1022" width="111" height="158.4"/>
<path class="s" d="M1147,1037.68 H1258 M1147,1053.36 H1258"/>
<text class="c" x="1202.5" y="1032.2">HF::Core::SUOTA::Server</text>
<text x="1152" y="1063.56"><tspan x="1152">+ Server()</tspan><tspan x="1152" dy="9.28">+ ~Server()</tspan><tspan x="1152" dy="9.28">+ new_version_available()</tspan><tspan x="1152" dy="9.28">+ new_version_available()</tspan><tspan x="1152" dy="9.28">+ new_version_available()</tspan><tspan x="1152" dy="9.28">+ check_version()</tspan><tspan x="1152" dy="9.28">+ upgrade_complete()</tspan><tspan x="1152" dy="9.28"># handle_command()</tspan><tspan x="1152" dy="9.28">* new_version_available()</tspan><tspan x="1152" dy="9.28">* new_version_available()</tspan><tspan x="1152" dy="9.28">* new_version_available()</tspan><tspan x="1152" dy="9.28">* check_version()</tspan><tspan x="1152" dy="9.28">* upgrade_complete()</tspan></text>
</g>

<g id="n_time_client">
<rect class="b" x="1294" y="1071" width="96" height="56.32"/>
<path class="s" d="M1294,1086.68 H1390 M1294,1102.36 H1390"/>
<text class="c" x="1342" y="1081.2">HF::Core::Time::Client</text>
<text x="1299" y="1112.56"><tspan x="1299">+ Client()</tspan><tspan x="1299" dy="9.28">+ ~Client()</tspan></text>
</g>

<g id="n_time_server">
<rect class="b" x="1425" y="1049" width="100" height="102.72"/>
<path class="s" d="M1425,1064.68 H1525 M1425,1080.36 H1525"/>
<text class="c" x="1475" y="1059.2">HF::Core::Time::Server</text>
<text x="1430" y="1074.9"># _time</text>
<text x="1430" y="1090.56"><tspan x="1430">+ Server()</tspan><tspan x="1430" dy="9.28">+ ~Server()</tspan><tspan x="1430" dy="9.28">+ time()</tspan><tspan x="1430" dy="9.28">+ time()</tspan><tspan x="1430" dy="9.28">+ attribute()</tspan><tspan x="1430" dy="9.28">+ attributes()</tspan><tspan x="1430" dy="9.28">+ tick()</tspan></text>
</g>
</g>
</svg>
